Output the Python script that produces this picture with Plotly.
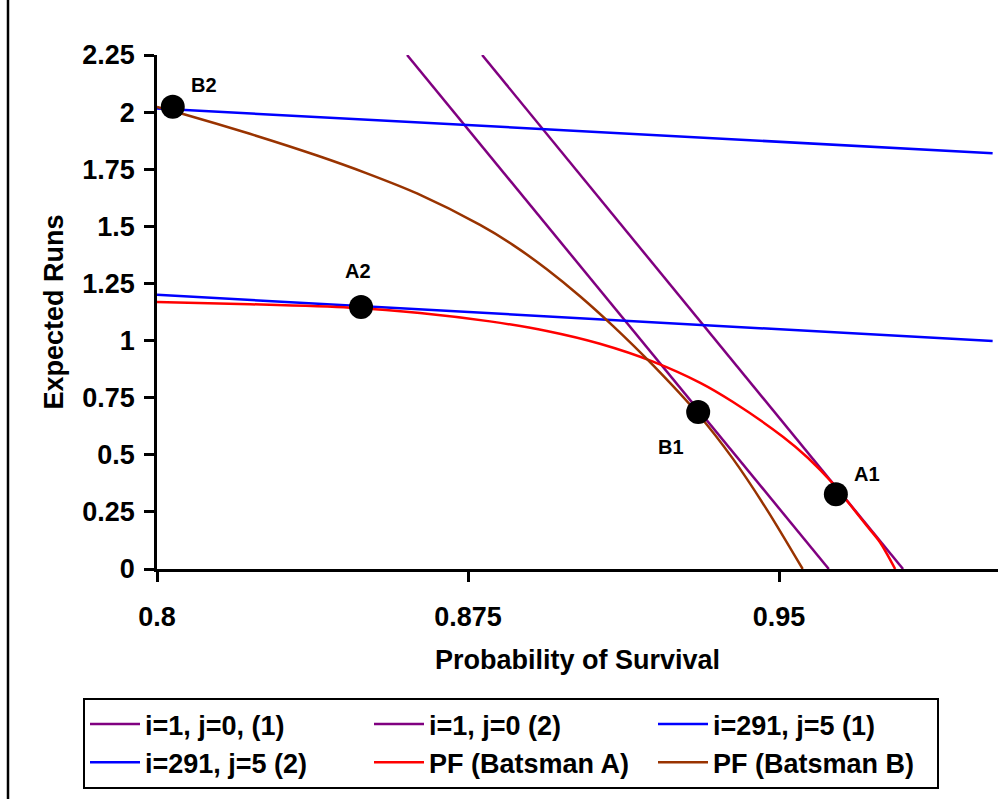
import plotly.graph_objects as go

# ---------------- data ----------------
purple1_x = [0.8603, 0.9620]
purple1_y = [2.25, 0.0]
purple2_x = [0.8784, 0.9799]
purple2_y = [2.25, 0.0]

blue1_x = [0.8000, 1.0015]
blue1_y = [2.016, 1.820]
blue2_x = [0.8000, 1.0015]
blue2_y = [1.200, 0.998]

red_x = [0.8000, 0.8224, 0.8465, 0.8634, 0.8803, 0.8940, 0.9068, 0.9196, 0.9310,
         0.9389, 0.9510, 0.9570, 0.9631, 0.9672, 0.9712, 0.9743, 0.9780]
red_y = [1.169, 1.159, 1.144, 1.121, 1.084, 1.042, 0.986, 0.908, 0.815,
         0.731, 0.578, 0.486, 0.372, 0.280, 0.188, 0.118, 0.000]

brown_x = [0.8000, 0.8063, 0.8224, 0.8386, 0.8506, 0.8627, 0.8779, 0.8858,
           0.8940, 0.9020, 0.9100, 0.9196, 0.9302, 0.9389, 0.9471, 0.9557]
brown_y = [2.023, 1.992, 1.905, 1.810, 1.732, 1.644, 1.506, 1.419,
           1.312, 1.194, 1.063, 0.892, 0.684, 0.482, 0.259, 0.000]

point_labels = ["A1", "A2", "B1", "B2"]
point_x = [0.9637, 0.8492, 0.9305, 0.8038]
point_y = [0.3275, 1.147, 0.687, 2.023]
label_dx = [31, -3, -27, 31]
label_dy = [-20, -36, 35, -22]

x_tickvals = [0.8, 0.875, 0.95]
x_ticktext = ["0.8", "0.875", "0.95"]
y_tickvals = [0, 0.25, 0.5, 0.75, 1.0, 1.25, 1.5, 1.75, 2.0, 2.25]
y_ticktext = ["0", "0.25", "0.5", "0.75", "1", "1.25", "1.5", "1.75", "2", "2.25"]

series_names = ["i=1, j=0, (1)", "i=1, j=0 (2)", "i=291, j=5 (1)",
                "i=291, j=5 (2)", "PF (Batsman A)", "PF (Batsman B)"]

# ---------------- figure ----------------
FONT = "Liberation Sans, Arial, sans-serif"
PURPLE = "#800080"
BLUE = "#0000FF"
RED = "#FF0000"
BROWN = "#993300"
LW = 2.5

W, H = 1008, 799
L, R, T, B = 157, 10, 55, 230
pw = W - L - R
ph = H - T - B

fig = go.Figure()
series = [
    (purple2_x, purple2_y, PURPLE, "linear"),
    (purple1_x, purple1_y, PURPLE, "linear"),
    (blue1_x, blue1_y, BLUE, "linear"),
    (blue2_x, blue2_y, BLUE, "linear"),
    (red_x, red_y, RED, "spline"),
    (brown_x, brown_y, BROWN, "spline"),
]
for name, (xs, ys, col, shp) in zip(series_names, series):
    fig.add_trace(go.Scatter(x=xs, y=ys, mode="lines", name=name,
                             line=dict(color=col, width=LW, shape=shp, smoothing=0.8),
                             cliponaxis=True))

fig.add_trace(go.Scatter(x=point_x, y=point_y, mode="markers", showlegend=False,
                         marker=dict(color="black", size=24, line=dict(width=0)),
                         cliponaxis=False))

for lab, px, py, dx, dy in zip(point_labels, point_x, point_y, label_dx, label_dy):
    fig.add_annotation(x=px, y=py, text="<b>" + lab + "</b>", showarrow=False,
                       xshift=dx, yshift=-dy,
                       font=dict(family=FONT, size=20, color="black"))

x_max = 0.8 + (998 - 157) / 4147.0
BOLD = dict(family=FONT, size=27, color="black", weight="bold")

fig.update_layout(
    width=W, height=H,
    margin=dict(l=L, r=R, t=T, b=B, autoexpand=False),
    paper_bgcolor="white", plot_bgcolor="white",
    font=dict(family=FONT, size=27, color="black"),
    showlegend=True,
    legend=dict(
        orientation="h", x=(83 - L) / pw, xanchor="left",
        y=-(698 - (T + ph)) / ph, yanchor="top",
        bordercolor="black", borderwidth=2, bgcolor="white",
        font=BOLD,
        entrywidth=219, entrywidthmode="pixels",
        tracegroupgap=0, itemwidth=50,
    ),
    xaxis=dict(
        range=[0.8, x_max], tickvals=x_tickvals, ticktext=x_ticktext,
        showgrid=False, zeroline=False, showline=True, linecolor="black", linewidth=LW,
        ticks="outside", ticklen=10, tickwidth=LW, tickcolor="black",
        tickfont=BOLD,
        ticklabelstandoff=12,
        title=dict(text="<b>Probability of Survival</b>", standoff=19,
                   font=dict(family=FONT, size=27, color="black")),
        automargin=False,
    ),
    yaxis=dict(
        range=[0, 2.25], tickvals=y_tickvals, ticktext=y_ticktext,
        showgrid=False, zeroline=False, showline=True, linecolor="black", linewidth=LW,
        ticks="outside", ticklen=10, tickwidth=LW, tickcolor="black",
        tickfont=BOLD,
        ticklabelstandoff=4,
        title=dict(text="<b>Expected Runs</b>", standoff=11,
                   font=dict(family=FONT, size=27, color="black")),
        automargin=False,
    ),
)

# chart-area border (left edge visible in reference)
fig.add_shape(type="line", xref="paper", yref="paper",
              x0=(8 - L) / pw, x1=(8 - L) / pw, y0=-(H - T - ph) / ph, y1=(T + ph) / ph,
              line=dict(color="black", width=2.5))

fig.write_html("out.html")
